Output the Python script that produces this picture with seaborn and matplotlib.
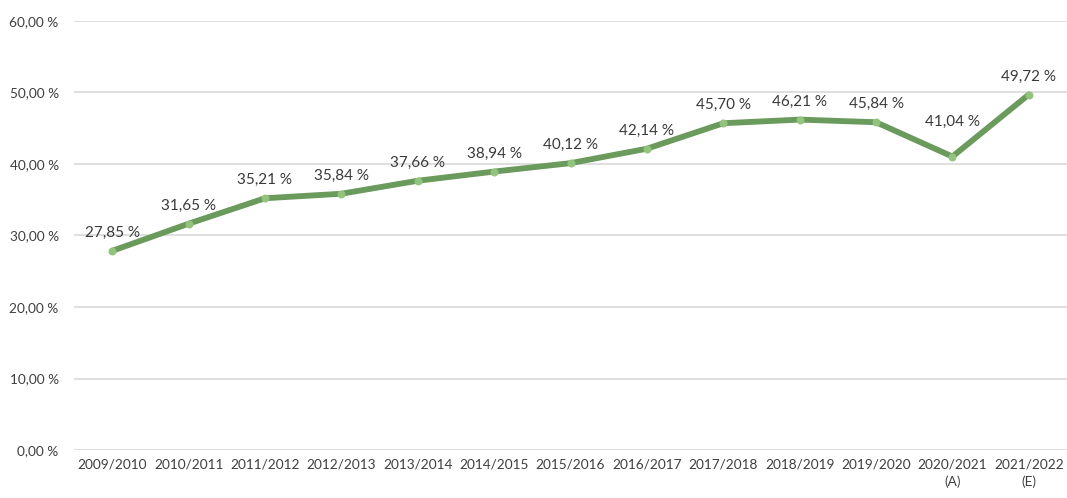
import matplotlib
matplotlib.use("Agg")
import matplotlib.pyplot as plt
import seaborn as sns
import pandas as pd
from matplotlib.ticker import FuncFormatter

seasons = ["2009/2010", "2010/2011", "2011/2012", "2012/2013", "2013/2014",
           "2014/2015", "2015/2016", "2016/2017", "2017/2018", "2018/2019",
           "2019/2020", "2020/2021\n(A)", "2021/2022\n(E)"]
values = [27.85, 31.65, 35.21, 35.84, 37.66, 38.94, 40.12, 42.14, 45.70,
          46.21, 45.84, 41.04, 49.72]
y_ticks = [0, 10, 20, 30, 40, 50, 60]

sns.set_theme(style="white")
plt.rcParams["font.family"] = ["Lato", "DejaVu Sans"]

df = pd.DataFrame({"season": seasons, "value": values})
df["pos"] = range(len(seasons))

fig = plt.figure(figsize=(10.67, 4.98), dpi=100)
ax = fig.add_axes([74 / 1067, 48 / 498, 1 - 74 / 1067, (450 - 21) / 498])

line_color = "#6a9a5c"
marker_color = "#93c47d"

sns.lineplot(data=df, x="pos", y="value", ax=ax, color=line_color,
             linewidth=4.2, marker="o", markersize=5,
             markerfacecolor=marker_color, markeredgecolor=marker_color,
             zorder=3)

for i, (x, v) in enumerate(zip(df["pos"], df["value"])):
    dy = 20 if i == 11 else 8
    ax.annotate(f"{v:.2f} %".replace(".", ","), (x, v), xytext=(0, dy),
                textcoords="offset points", ha="center", va="bottom",
                fontsize=11, color="#3a3a3a")

ax.set_xlim(-0.5, len(seasons) - 0.5)
ax.set_ylim(0, 60)
ax.set_yticks(y_ticks)
ax.yaxis.set_major_formatter(FuncFormatter(lambda v, p: f"{v:.2f} %".replace(".", ",")))
ax.set_xticks(df["pos"])
ax.set_xticklabels(seasons, linespacing=1.45)
ax.tick_params(axis="both", labelsize=9.8, colors="#3f3f3f", length=0)
ax.tick_params(axis="y", pad=11)
ax.tick_params(axis="x", pad=6)
ax.grid(axis="y", color="#d9d9d9", linewidth=1.2)
ax.set_axisbelow(True)
for s in ax.spines.values():
    s.set_visible(False)
ax.set_xlabel("")
ax.set_ylabel("")

fig.savefig("out.png", dpi=100)
